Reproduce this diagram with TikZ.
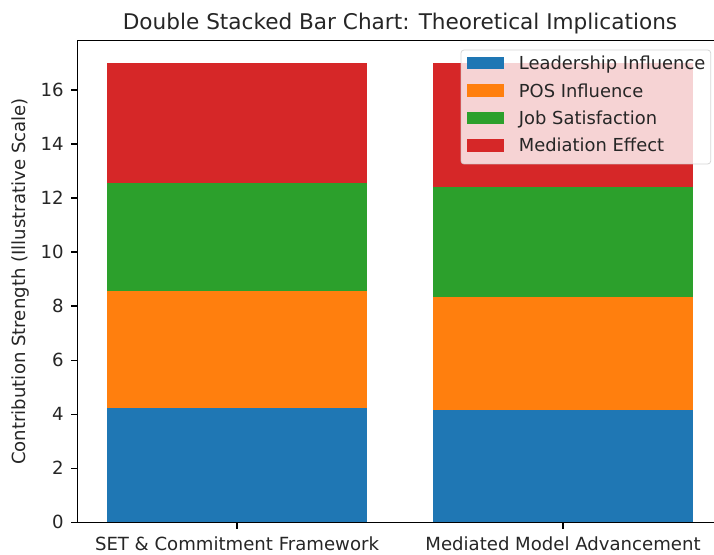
\documentclass[tikz,border=0pt]{standalone}
\usepackage{fontspec}
\setmainfont{DejaVu Sans}
\definecolor{tabblue}{HTML}{1F77B4}
\definecolor{taborange}{HTML}{FF7F0E}
\definecolor{tabgreen}{HTML}{2CA02C}
\definecolor{tabred}{HTML}{D62728}
\definecolor{legedge}{HTML}{CCCCCC}
\definecolor{txt}{HTML}{262626}
\tikzset{
  spine/.style={line width=1.3pt, black, line cap=rect},
  tickmark/.style={line width=1.3pt, black},
  ticklab/.style={font=\fontsize{18.1}{21}\selectfont, text=txt, inner sep=0pt},
  leglab/.style={font=\fontsize{17.9}{21}\selectfont, text=txt, inner sep=0pt, anchor=base west},
  titlelab/.style={font=\fontsize{21.6}{25}\selectfont, text=txt, inner sep=0pt, anchor=base},
}
\begin{document}
\begin{tikzpicture}[x=1pt,y=1pt]
\useasboundingbox (0,0) rectangle (714,554);
\fill[white] (0,0) rectangle (714,554);
\begin{scope}[shift={(237pt,31.7pt)}, x=326pt, y=27.02pt]
  % bar 1
  \fill[tabblue]   (-0.4,0)    rectangle (0.4,4.23);
  \fill[taborange] (-0.4,4.23) rectangle (0.4,8.55);
  \fill[tabgreen]  (-0.4,8.55) rectangle (0.4,12.55);
  \fill[tabred]    (-0.4,12.55) rectangle (0.4,17);
  % bar 2
  \fill[tabblue]   (0.6,0)    rectangle (1.4,4.14);
  \fill[taborange] (0.6,4.14) rectangle (1.4,8.35);
  \fill[tabgreen]  (0.6,8.35) rectangle (1.4,12.4);
  \fill[tabred]    (0.6,12.4) rectangle (1.4,17);
  % y ticks
  \foreach \v in {0,2,...,16}{
    \draw[tickmark] (-0.49,\v) -- ++(-6.5pt,0);
    \node[ticklab, anchor=base east, xshift=-13.3pt, yshift=-6.6pt] (yt\v) at (-0.49,\v) {\v};
  }
  % x ticks
  \draw[tickmark] (0,0) -- ++(0,-6.5pt);
  \draw[tickmark] (1,0) -- ++(0,-6.5pt);
  \node[ticklab, anchor=base, yshift=-28.4pt] (xt1) at (0,0) {SET \& Commitment Framework};
  \node[ticklab, anchor=base, yshift=-28.4pt] (xt2) at (1,0) {Mediated Model Advancement};
\end{scope}
% spines
\draw[spine] (77.3,513.3) -- (77.3,31.7);
\draw[spine] (77.3,31.7) -- (716,31.7);
\draw[spine] (77.3,513.3) -- (716,513.3);
% legend
\filldraw[fill=white, fill opacity=0.8, draw=legedge, draw opacity=0.8, line width=0.8pt, rounded corners=3pt]
  (461,504) rectangle (710.7,390);
\fill[tabblue]   (467.3,497.3) rectangle (503.7,484.7);
\fill[taborange] (467.3,469.5) rectangle (503.7,456.9);
\fill[tabgreen]  (467.3,442.3) rectangle (503.7,429.7);
\fill[tabred]    (467.3,414.8) rectangle (503.7,402.2);
\node[leglab] (l1) at (518.7,484.5) {Leadership Influence};
\node[leglab] (l2) at (518.7,456.7) {POS Influence};
\node[leglab] (l3) at (518.7,429.5) {Job Satisfaction};
\node[leglab] (l4) at (518.7,402.0) {Mediation Effect};
% title and y label
\node[titlelab] (title) at (400,524.7) {Double Stacked Bar Chart: Theoretical Implications};
\node[ticklab, rotate=90, anchor=base] (ylab) at (25.5,272.5) {Contribution Strength (Illustrative Scale)};
\end{tikzpicture}
\end{document}
